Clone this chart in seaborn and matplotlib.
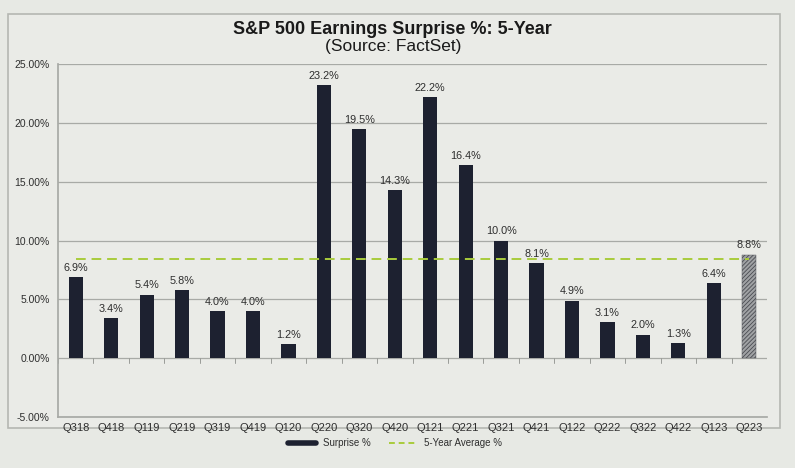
import numpy as np
import pandas as pd
import seaborn as sns
import matplotlib.pyplot as plt
from matplotlib.patches import Rectangle
from matplotlib.lines import Line2D

# data
quarters = ['Q318', 'Q418', 'Q119', 'Q219', 'Q319', 'Q419', 'Q120', 'Q220', 'Q320', 'Q420',
            'Q121', 'Q221', 'Q321', 'Q421', 'Q122', 'Q222', 'Q322', 'Q422', 'Q123', 'Q223']
surprise = [6.9, 3.4, 5.4, 5.8, 4.0, 4.0, 1.2, 23.2, 19.5, 14.3,
            22.2, 16.4, 10.0, 8.1, 4.9, 3.1, 2.0, 1.3, 6.4, 8.8]
avg_5yr = 8.4
y_ticks = [-5, 0, 5, 10, 15, 20, 25]

df = pd.DataFrame({'quarter': quarters, 'surprise': surprise})

sns.set_theme(style='white')
plt.rcParams['font.family'] = ['Liberation Sans', 'DejaVu Sans']
plt.rcParams['hatch.linewidth'] = 0.6

bg = '#e7e9e4'
bar_col = '#1d2130'
txt = '#2e2e2e'
fig = plt.figure(figsize=(7.95, 4.68), dpi=100, facecolor=bg)
# outer chart box
fig.patches.append(Rectangle((8 / 795, 1 - 428 / 468), 772 / 795, 414 / 468, transform=fig.transFigure,
                             facecolor='#eaebe7', edgecolor='#b5b7b2', lw=1.2, zorder=-5))
ax = fig.add_axes([58 / 795, 1 - 417 / 468, 709 / 795, 353 / 468])
ax.set_zorder(2)
ax.set_facecolor('none')

sns.barplot(data=df, x='quarter', y='surprise', color=bar_col, width=0.4, saturation=1,
            linewidth=0, ax=ax, zorder=3)
last = ax.patches[-1]
last.set_facecolor('#a0a2a4')
last.set_hatch('////////')
last.set_edgecolor('#4a4c52')
last.set_linewidth(0.3)

sns.lineplot(x=np.arange(len(quarters)), y=[avg_5yr] * len(quarters), color='#a9cc3c',
             linestyle=(0, (5, 3)), lw=1.4, ax=ax, zorder=4)

ax.bar_label(ax.containers[0], fmt='%.1f%%', padding=3, fontsize=7.8, color=txt)

ax.set_ylim(-5, 25)
ax.set_xlim(-0.5, len(quarters) - 0.5)
ax.set_yticks(y_ticks)
ax.set_yticklabels([f'{v:.2f}%' for v in y_ticks], fontsize=7.5, color=txt)
ax.yaxis.grid(True, color='#a8aaa6', lw=0.9)
ax.set_axisbelow(True)
ax.set_xlabel('')
ax.set_ylabel('')
ax.tick_params(axis='x', length=0, pad=4, labelsize=8, labelcolor=txt)
ax.tick_params(axis='y', length=0, pad=6)
for s in ['top', 'right']:
    ax.spines[s].set_visible(False)
ax.spines['left'].set_color('#a8aaa6')
ax.spines['bottom'].set_color('#a8aaa6')
# small ticks on the zero line between categories
for b in np.arange(-0.5, len(quarters), 1.0):
    ax.plot([b, b], [0, -0.4], color='#9a9c98', lw=0.7, zorder=2)

fig.text(0.494, 1 - 30 / 468, 'S&P 500 Earnings Surprise %: 5-Year', ha='center', va='center',
         fontsize=13, fontweight='bold', color='#1a1a1a')
fig.text(0.494, 1 - 47 / 468, '(Source: FactSet)', ha='center', va='center', fontsize=12.5, color='#1a1a1a')

handles = [Line2D([], [], color=bar_col, lw=4),
           Line2D([], [], color='#a9cc3c', lw=1.4, linestyle=(0, (3, 2)))]
fig.legend(handles, ['Surprise %', '5-Year Average %'], loc='center', bbox_to_anchor=(0.497, 1 - 443 / 468),
           ncol=2, frameon=False, fontsize=7, handlelength=2.8, columnspacing=1.8,
           labelcolor=txt)

fig.savefig('out.png', dpi=100, facecolor=bg)
